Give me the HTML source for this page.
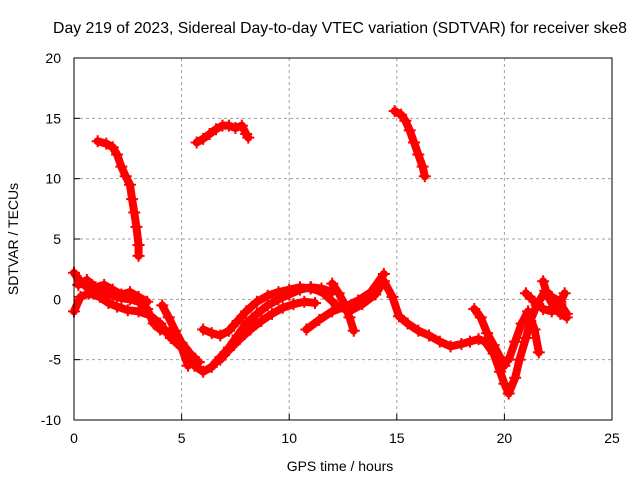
<!DOCTYPE html>
<html><head><meta charset="utf-8"><style>
body{margin:0;background:#fff}
svg{display:block;font-family:"Liberation Sans",sans-serif;font-size:14px}
</style></head><body>
<svg id="chart" width="640" height="480">
<text x="340" y="33" text-anchor="middle" style="font-size:15.8px">Day 219 of 2023, Sidereal Day-to-day VTEC variation (SDTVAR) for receiver ske8</text>
<g id="grid"></g>
<g id="ticks"></g>
<g id="series"></g>
<rect x="74" y="58" width="538" height="362" fill="none" stroke="#000" stroke-width="1"/>
<text x="340" y="471" text-anchor="middle">GPS time / hours</text>
<text transform="translate(18,239) rotate(-90)" text-anchor="middle">SDTVAR / TECUs</text>
</svg>
<script>
const xTicks=[0,5,10,15,20,25];
const yTicks=[-10,-5,0,5,10,15,20];
const trackA=[[1.1,13.1],[1.5,12.9],[1.8,12.6],[2.0,12.0],[2.2,11.0],[2.4,10.2],[2.6,9.5],[2.7,8.3],[2.8,7.2],[2.9,6.0],[3.0,4.5],[3.0,3.6]];
const trackB=[[5.7,13.0],[6.0,13.3],[6.3,13.7],[6.6,14.1],[6.9,14.4],[7.2,14.4],[7.5,14.2],[7.8,14.4],[8.0,13.7],[8.1,13.4]];
const trackC=[[14.9,15.6],[15.2,15.3],[15.4,14.8],[15.6,14.0],[15.8,13.0],[16.0,12.0],[16.2,11.0],[16.3,10.2]];
const trackD=[[0,2.2],[0.3,1.5],[0.6,1.0],[1.0,0.8],[1.4,0.6],[1.8,0.3],[2.2,0.1],[2.6,0.0],[3.0,-0.2],[3.4,-0.8],[3.7,-2.0],[4.0,-2.5],[4.4,-2.8],[4.8,-3.5],[5.2,-4.5],[5.6,-5.5],[6.0,-6.0],[6.4,-5.6],[6.8,-4.8],[7.2,-4.0],[7.6,-3.0],[8.0,-2.0],[8.5,-1.2],[9.0,-0.5],[9.5,0.0],[10.0,0.4],[10.5,0.8],[11.0,1.0],[11.5,0.9],[12.0,0.6]];
const trackE=[[0,-1.0],[0.3,0.2],[0.7,0.5],[1.2,0.2],[1.6,-0.3],[2.0,-0.6],[2.5,-0.9],[3.0,-1.0],[3.5,-1.3],[4.0,-2.0],[4.5,-3.2],[5.0,-4.0],[5.3,-5.5]];
const trackE2=[[0.2,1.2],[0.6,1.6],[1.0,1.0],[1.4,1.2],[1.8,0.8],[2.2,0.4],[2.6,0.6],[3.0,0.2],[3.4,-0.2]];
const trackF=[[4.1,-0.5],[4.4,-1.5],[4.7,-2.6],[5.0,-3.6],[5.4,-4.5],[5.8,-5.2]];
const trackG=[[6.0,-2.5],[6.4,-2.8],[6.8,-3.0],[7.2,-2.6],[7.6,-1.8],[8.0,-1.0],[8.5,-0.2],[9.0,0.3],[9.5,0.6],[10.0,0.8],[10.5,1.0],[11.0,0.9],[11.6,0.6]];
const trackH=[[6.8,-5.0],[7.2,-4.2],[7.7,-3.3],[8.2,-2.5],[8.7,-1.8],[9.2,-1.2],[9.7,-0.7],[10.2,-0.4],[10.7,-0.2],[11.2,-0.3]];
const trackI=[[10.8,-2.5],[11.4,-1.7],[12.0,-1.0],[12.6,-0.6],[13.2,-0.1],[13.8,0.6],[14.4,2.1]];
const trackJ=[[12.0,1.3],[12.3,0.5],[12.6,-0.5],[12.8,-1.5],[13.0,-2.6]];
const trackK=[[11.0,1.0],[11.6,0.5],[12.2,-0.5],[12.8,-1.0],[13.4,-0.4],[14.0,0.4],[14.4,1.5],[14.8,0.2],[15.1,-1.4],[15.5,-2.0],[16.0,-2.6],[16.5,-3.0],[17.0,-3.5],[17.5,-3.9],[18.0,-3.7],[18.4,-3.5],[18.8,-3.3],[19.1,-3.5],[19.5,-4.5],[19.8,-6.0],[20.0,-7.0],[20.2,-7.8],[20.5,-6.5],[20.7,-5.0],[21.0,-3.2],[21.2,-1.8],[21.5,-0.5],[21.9,0.7],[22.2,0.2],[22.6,-0.2],[22.8,0.5]];
const trackL=[[18.6,-0.8],[18.9,-1.5],[19.2,-2.8],[19.5,-3.8],[19.8,-4.8],[20.0,-5.5]];
const trackM=[[20.2,-5.0],[20.5,-3.5],[20.8,-2.0],[21.1,-1.0],[21.4,-2.5],[21.6,-4.4]];
const trackN=[[21.8,1.5],[22.0,0.3],[22.3,-0.6],[22.6,-1.2],[22.9,-1.5]];
const trackO=[[21.0,0.5],[21.4,-0.2],[21.8,-0.8],[22.2,-1.0],[22.6,-0.4],[22.9,-1.2]];
const tracks=[trackA,trackB,trackC,trackD,trackE,trackE2,trackF,trackG,trackH,trackI,trackJ,trackK,trackL,trackM,trackN,trackO];
const X0=74,X1=612,Y0=420,Y1=58;
const sx=t=>X0+(t-0)/25*(X1-X0);
const sy=v=>Y0-(v+10)/30*(Y0-Y1);
const NS='http://www.w3.org/2000/svg';
const grid=document.getElementById('grid'),ticks=document.getElementById('ticks'),series=document.getElementById('series');
function mk(tag,attrs,parent){const e=document.createElementNS(NS,tag);for(const k in attrs)e.setAttribute(k,attrs[k]);parent.appendChild(e);return e;}
xTicks.forEach(t=>{const x=sx(t);
 if(t>0&&t<25){const l=mk('line',{x1:x,x2:x,y1:Y1,y2:Y0,stroke:'#a0a0a0','stroke-dasharray':'3,3'},grid);
 
 }
 const tk=mk('line',{x1:x,x2:x,y1:Y0,y2:Y0-6,stroke:'#000'},ticks);
 
 
 const tx=mk('text',{x:x,y:Y0+23,'text-anchor':'middle'},ticks);tx.textContent=t;
 
 
});
yTicks.forEach(v=>{const y=sy(v);
 if(v>-10&&v<20){const l=mk('line',{x1:X0,x2:X1,y1:y,y2:y,stroke:'#a0a0a0','stroke-dasharray':'3,3'},grid);
 
 }
 const tk=mk('line',{x1:X0,x2:X0+6,y1:y,y2:y,stroke:'#000'},ticks);
 
 
 const tx=mk('text',{x:X0-13,y:y+5,'text-anchor':'end'},ticks);tx.textContent=v;
 
 
});
tracks.forEach(tr=>{
 const pl=mk('polyline',{points:tr.map(p=>sx(p[0])+','+sy(p[1])).join(' '),fill:'none',stroke:'#ff0000','stroke-width':8,'stroke-linejoin':'round','stroke-linecap':'round'},series);
 
 
 tr.forEach(p=>{const x=sx(p[0]),y=sy(p[1]);
  const m=mk('path',{d:`M${x-6},${y}H${x+6}M${x},${y-6}V${y+6}`,stroke:'#ff0000','stroke-width':2},series);
  
  
 });
});
</script>
</body></html>
